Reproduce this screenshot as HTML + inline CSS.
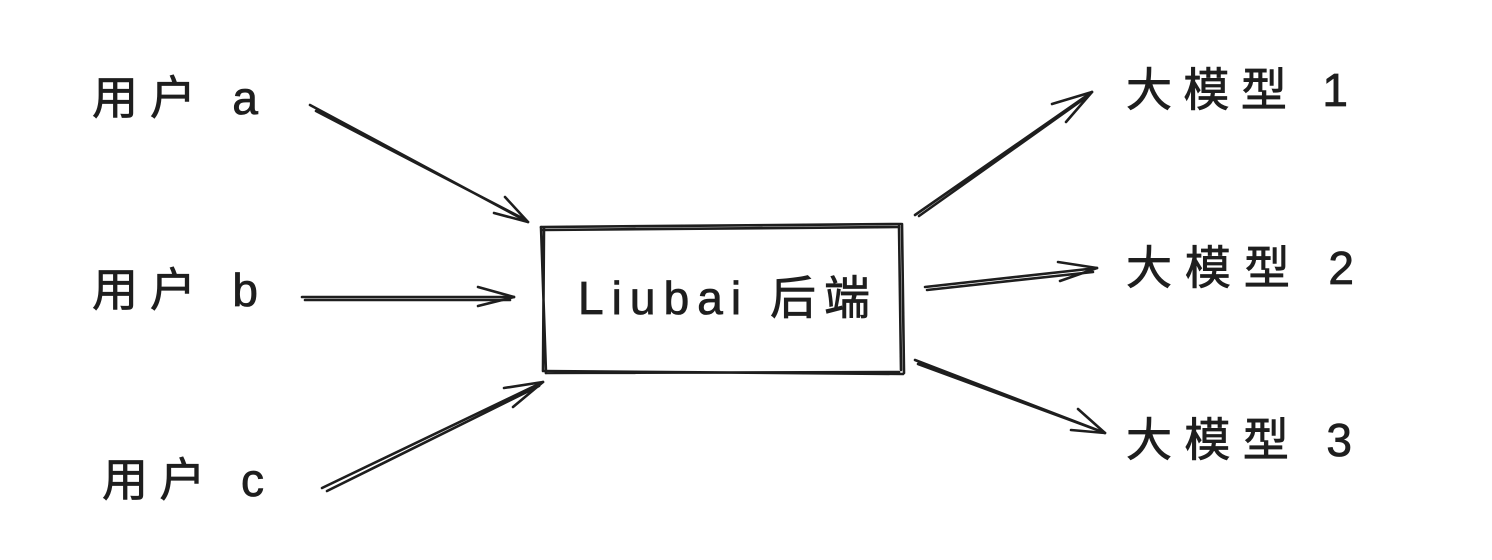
<!DOCTYPE html>
<html><head><meta charset="utf-8"><style>
html,body{margin:0;padding:0;background:#fff;width:1492px;height:560px;overflow:hidden}
svg{position:absolute;left:0;top:0}
text{font-family:"Liberation Sans","Noto Sans CJK SC",sans-serif;fill:#1e1e1e;font-size:46px;stroke:#1e1e1e;stroke-width:0.8}
</style></head><body>
<svg width="1492" height="560" viewBox="0 0 1492 560">
<g stroke="#1e1e1e" stroke-width="2.6" fill="none" stroke-linecap="round">
<path d="M541 227 L901 224 M543 230 L899 227"/>
<path d="M541 227 L546 373 M544 228 L543 370"/>
<path d="M902 224 L904 373 M899 226 L901 370"/>
<path d="M543 371 L903 374 M546 373 L899 372"/>
<path d="M310 105 L528 222 M316 111 L524 219"/>
<path d="M528 222 L494 213 M528 222 L505 197"/>
<path d="M302 297 L514 297 M305 300 L510 300"/>
<path d="M514 297 L478 287 M514 297 L478 306"/>
<path d="M322 488 L543 382 M327 491 L539 386"/>
<path d="M543 382 L504 388 M543 382 L513 407"/>
<path d="M915 215 L1092 92 M919 216 L1088 96"/>
<path d="M1092 92 L1052 104 M1092 92 L1066 122"/>
<path d="M925 287 L1097 268 M927 290 L1093 272"/>
<path d="M1097 268 L1058 262 M1097 268 L1060 281"/>
<path d="M915 360 L1105 433 M918 364 L1100 431"/>
<path d="M1105 433 L1078 409 M1105 433 L1071 430"/>
</g>
<text x="92" y="114" textLength="166" lengthAdjust="spacing">用户 a</text>
<text x="92" y="306" textLength="166" lengthAdjust="spacing">用户 b</text>
<text x="102" y="496" textLength="162" lengthAdjust="spacing">用户 c</text>
<text x="578" y="314" textLength="292" lengthAdjust="spacing">Liubai 后端</text>
<text x="1126" y="106" textLength="222" lengthAdjust="spacing">大模型 1</text>
<text x="1126" y="284" textLength="228" lengthAdjust="spacing">大模型 2</text>
<text x="1126" y="456" textLength="226" lengthAdjust="spacing">大模型 3</text>
</svg>
</body></html>
